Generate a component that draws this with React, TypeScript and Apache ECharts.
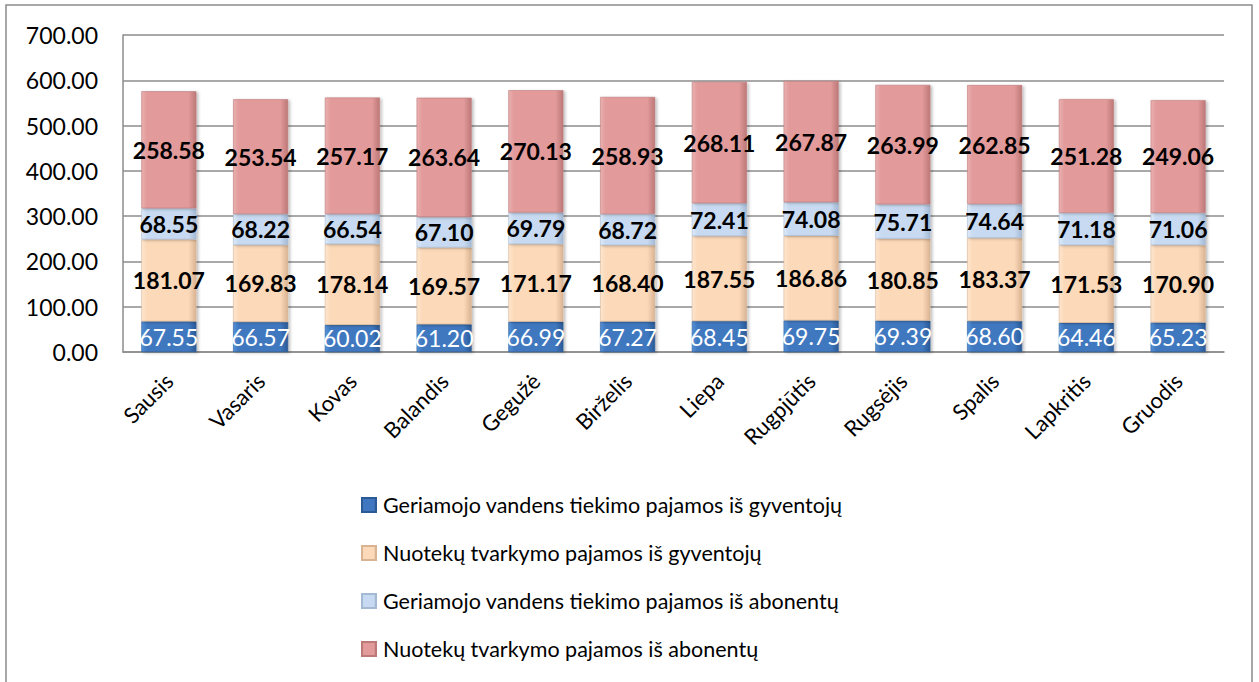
import React, { useEffect, useRef } from "react";
import * as echarts from "echarts";

const months = ["Sausis", "Vasaris", "Kovas", "Balandis", "Gegužė", "Birželis", "Liepa", "Rugpjūtis", "Rugsėjis", "Spalis", "Lapkritis", "Gruodis"];
const seriesNames = [
  "Geriamojo vandens tiekimo pajamos iš gyventojų",
  "Nuotekų tvarkymo pajamos iš gyventojų",
  "Geriamojo vandens tiekimo pajamos iš abonentų",
  "Nuotekų tvarkymo pajamos iš abonentų",
];
const waterResidents = [67.55, 66.57, 60.02, 61.2, 66.99, 67.27, 68.45, 69.75, 69.39, 68.6, 64.46, 65.23];
const sewageResidents = [181.07, 169.83, 178.14, 169.57, 171.17, 168.4, 187.55, 186.86, 180.85, 183.37, 171.53, 170.9];
const waterSubscribers = [68.55, 68.22, 66.54, 67.1, 69.79, 68.72, 72.41, 74.08, 75.71, 74.64, 71.18, 71.06];
const sewageSubscribers = [258.58, 253.54, 257.17, 263.64, 270.13, 258.93, 268.11, 267.87, 263.99, 262.85, 251.28, 249.06];
const yTicks = { min: 0, max: 700, interval: 100 };

const FONT = "Lato, 'Noto Sans', sans-serif";

function grad(light: string, main: string, dark: string) {
  return new echarts.graphic.LinearGradient(0, 0, 1, 0, [
    { offset: 0, color: light },
    { offset: 0.1, color: main },
    { offset: 0.86, color: main },
    { offset: 1, color: dark },
  ]);
}

export default function App() {
  const ref = useRef<HTMLDivElement>(null);
  useEffect(() => {
    if (!ref.current) return;
    const chart = echarts.init(ref.current, null, { renderer: "svg" });
    const colors = [
      { main: "#3f78c0", light: "#5590d6", dark: "#2b5a96", legend: "#2f64a8" },
      { main: "#fcd9b8", light: "#fde6cf", dark: "#d9b494", legend: "#f2c9a3" },
      { main: "#c7daf1", light: "#dde9f7", dark: "#a4b9d4", legend: "#b9cde5" },
      { main: "#e29a9a", light: "#eab0b0", dark: "#bd7878", legend: "#d58e8e" },
    ];
    const datas = [waterResidents, sewageResidents, waterSubscribers, sewageSubscribers];
    const series = datas.map((d, i) => ({
      name: seriesNames[i],
      type: "bar",
      stack: "total",
      barWidth: "60%",
      data: d,
      itemStyle: {
        color: grad(colors[i].light, colors[i].main, colors[i].dark),
        borderColor: colors[i].dark,
        borderWidth: 0.6,
        shadowColor: "rgba(0,0,0,0.25)",
        shadowBlur: 3,
        shadowOffsetX: 2,
        shadowOffsetY: 1,
      },
      label: {
        show: true,
        position: "inside",
        formatter: (p: any) => Number(p.value).toFixed(2),
        fontFamily: FONT,
        fontSize: 23,
        fontWeight: i === 0 ? "normal" : "bold",
        color: i === 0 ? "#ffffff" : "#000000",
      },
    }));
    chart.setOption({
      animation: false,
      backgroundColor: "#ffffff",
      color: colors.map((c) => c.legend),
      grid: { left: 123, right: 35, top: 35, bottom: 330, containLabel: false },
      xAxis: {
        type: "category",
        data: months,
        axisLine: { show: true, lineStyle: { color: "#8c8c8c", width: 1.5 } },
        axisTick: { show: false },
        axisLabel: { rotate: 45, fontFamily: FONT, fontSize: 22, color: "#000", margin: 25, interval: 0 },
      },
      yAxis: {
        type: "value",
        min: yTicks.min,
        max: yTicks.max,
        interval: yTicks.interval,
        axisLine: { show: true, lineStyle: { color: "#8c8c8c", width: 1.5 } },
        axisTick: { show: false },
        splitLine: { show: true, lineStyle: { color: "#8c8c8c", width: 1.5 } },
        axisLabel: {
          formatter: (v: number) => v.toFixed(2),
          fontFamily: FONT,
          fontSize: 23,
          color: "#000",
          margin: 25,
        },
      },
      legend: {
        orient: "vertical",
        left: 356,
        top: 489,
        itemWidth: 14,
        itemHeight: 14,
        itemGap: 26,
        icon: "rect",
        selectedMode: false,
        textStyle: { fontFamily: FONT, fontSize: 21.5, color: "#000", padding: [0, 0, 0, 2] },
        data: seriesNames,
      },
      graphic: [
        {
          type: "rect",
          shape: { x: 6, y: 5, width: 1246, height: 700 },
          style: { fill: "none", stroke: "#8c8c8c", lineWidth: 1.5 },
          silent: true,
        },
      ],
      series,
    });
    return () => chart.dispose();
  }, []);
  return <div ref={ref} style={{ position: "fixed", left: 0, top: 0, width: 1259, height: 682 }} />;
}
